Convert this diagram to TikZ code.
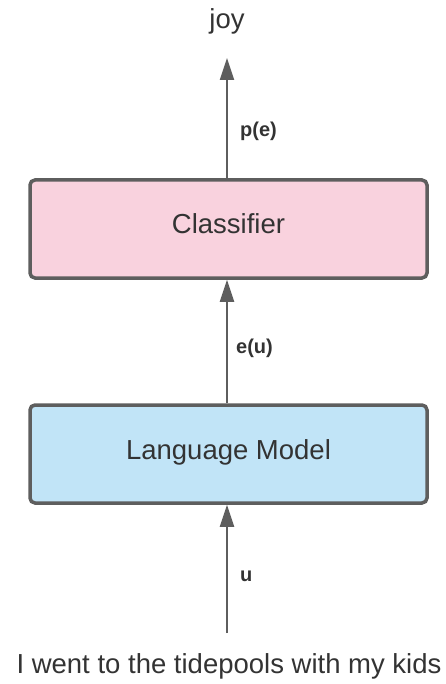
\documentclass[tikz,border=0pt]{standalone}
\usepackage{fontspec}
\setmainfont{Liberation Sans}
\usetikzlibrary{arrows.meta}
\usetikzlibrary{positioning}
\definecolor{lgray}{HTML}{5E5E5E}
\definecolor{ltext}{HTML}{333333}
\definecolor{lpink}{HTML}{F9D2DE}
\definecolor{lblue}{HTML}{C1E4F7}

\begin{document}
\begin{tikzpicture}[x=1pt, y=-1pt,
    txt/.style={text=ltext, font=\fontsize{27.5}{30}\selectfont, inner sep=0},
    lbl/.style={text=ltext, font=\fontsize{20}{22}\selectfont\bfseries, inner sep=0, anchor=base west},
    block/.style={draw=lgray, line width=3.5pt, rounded corners=5pt, minimum width=397pt, minimum height=98pt, text height=20pt, text depth=10pt, text=ltext, font=\fontsize{27.5}{30}\selectfont},
    flow/.style={draw=lgray, line width=2pt, -{Triangle[length=22pt, width=14pt]}}]
    \useasboundingbox (0, 0) rectangle (446, 684);

    \node [txt, anchor=base] (joy) at (227, 29) {joy};
    \node [block, fill=lpink] (clf) at (228.5, 229) {Classifier};
    \node [block, fill=lblue] (lm) at (228.5, 454) {Language Model};
    \node [txt, anchor=base] (sent) at (229, 673) {I went to the tidepools with my kids};
    \coordinate (pin) at (227, 633);
    \coordinate (pout) at (227, 58);

    \draw [flow] (pin) -- (pin |- lm.south);
    \draw [flow] (pin |- lm.north) -- (pin |- clf.south);
    \draw [flow] (pin |- clf.north) -- (pout);

    \node [lbl] (u) at (240, 581) {u};
    \node [lbl] (eu) at (236, 353) {e(u)};
    \node [lbl] (pe) at (240, 137) {p(e)};
  \end{tikzpicture}
\end{document}
